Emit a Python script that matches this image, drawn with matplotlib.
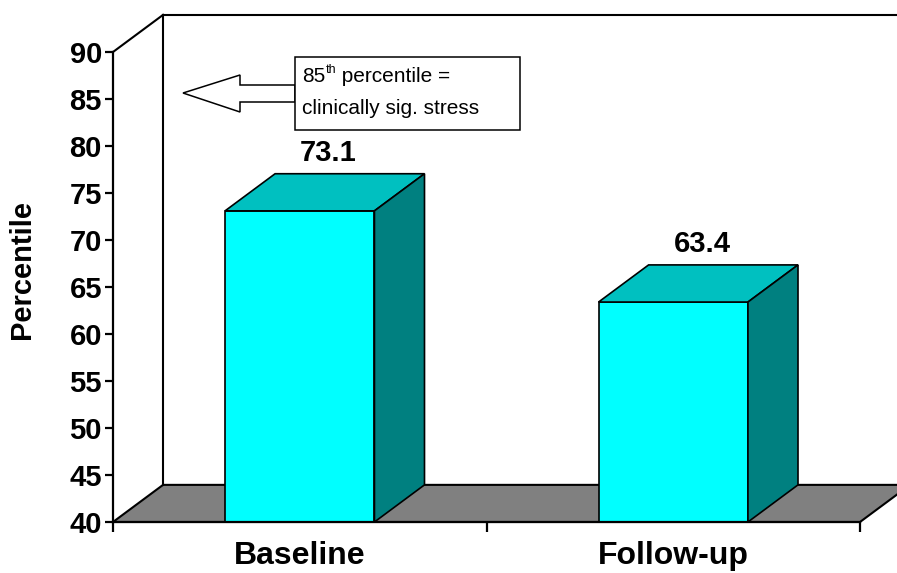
import matplotlib
matplotlib.use("Agg")
import matplotlib.pyplot as plt
from matplotlib.patches import Polygon, Rectangle

categories = ["Baseline", "Follow-up"]
values = [73.1, 63.4]
value_labels = ["73.1", "63.4"]
yticks = [40, 45, 50, 55, 60, 65, 70, 75, 80, 85, 90]
ylabel = "Percentile"
note_num = "85"
note_sup = "th"
note_rest = " percentile ="
note_line2 = "clinically sig. stress"

plt.rcParams['font.family'] = ['Liberation Sans', 'DejaVu Sans']

W, H = 897, 573
fig = plt.figure(figsize=(W / 100, H / 100), dpi=100)
ax = fig.add_axes([113 / W, 51 / H, (860 - 113) / W, 470 / H])
ymin, ymax = 40, 90
ax.set_xlim(0, len(categories))
ax.set_ylim(ymin, ymax)

dx = 0.134   # depth offset in x (category units)
dy = 3.95    # depth offset in y (percentile units)
bw = 0.40
ncat = len(categories)

floor = Polygon([(0, ymin), (ncat, ymin), (ncat + dx, ymin + dy), (dx, ymin + dy)],
                closed=True, facecolor="#808080", edgecolor="black", lw=1.5,
                clip_on=False, zorder=1)
ax.add_patch(floor)
ax.plot([dx, dx], [ymin + dy, ymax + dy], color="black", lw=1.5, clip_on=False, zorder=1.5)
ax.plot([dx, ncat + dx], [ymax + dy, ymax + dy], color="black", lw=1.5, clip_on=False, zorder=1.5)
ax.plot([0, dx], [ymax, ymax + dy], color="black", lw=1.5, clip_on=False, zorder=1.5)

for i, v in enumerate(values):
    x0 = i + 0.5 - bw / 2
    x1 = i + 0.5 + bw / 2
    ax.add_patch(Rectangle((x0, ymin), bw, v - ymin, facecolor="#00FFFF",
                           edgecolor="black", lw=1.2, clip_on=False, zorder=3))
    ax.add_patch(Polygon([(x0, v), (x1, v), (x1 + dx, v + dy), (x0 + dx, v + dy)],
                         closed=True, facecolor="#00C0C0", edgecolor="black",
                         lw=1.2, clip_on=False, zorder=3))
    ax.add_patch(Polygon([(x1, ymin), (x1 + dx, ymin + dy), (x1 + dx, v + dy), (x1, v)],
                         closed=True, facecolor="#008080", edgecolor="black",
                         lw=1.2, clip_on=False, zorder=3))
    ax.text(i + 0.5 + dx / 2 + 0.01, v + dy + 0.7, value_labels[i], ha="center",
            va="bottom", fontsize=21, fontweight="bold", zorder=5)

for s in ["top", "right"]:
    ax.spines[s].set_visible(False)
for s in ["left", "bottom"]:
    ax.spines[s].set_linewidth(1.6)
    ax.spines[s].set_zorder(4)
ax.set_facecolor("none")
ax.set_yticks(yticks)
ax.set_yticklabels([str(t) for t in yticks], fontsize=21, fontweight="bold")
ax.tick_params(axis="y", length=6, width=1.6, pad=2)
ax.set_xticks(range(ncat + 1))
ax.set_xticklabels([""] * (ncat + 1))
ax.tick_params(axis="x", which="major", length=7, width=1.6)
ax.set_xticks([i + 0.5 for i in range(ncat)], minor=True)
ax.set_xticklabels(categories, minor=True, fontsize=23, fontweight="bold")
ax.tick_params(axis="x", which="minor", length=0, pad=14)

fig.text(22 / W, 1 - 270 / H, ylabel, rotation=90, ha="center", va="center",
         fontsize=21, fontweight="bold")

def P(x, y):
    return (x / W, 1 - y / H)

arrow = Polygon([P(183, 93), P(240, 75), P(240, 85), P(295, 85), P(295, 102),
                 P(240, 102), P(240, 112)], closed=True, facecolor="white",
                edgecolor="black", lw=1.1, transform=fig.transFigure, zorder=6)
fig.add_artist(arrow)
box = Rectangle(P(295, 130), (520 - 295) / W, (130 - 57) / H, facecolor="white",
                edgecolor="black", lw=1.1, transform=fig.transFigure, zorder=6)
fig.add_artist(box)

renderer = fig.canvas.get_renderer()
t1 = fig.text(*P(302, 77), note_num, ha="left", va="center", fontsize=15, zorder=7)
bb = t1.get_window_extent(renderer)
t2 = fig.text(bb.x1 / W + 0.5 / W, P(0, 70)[1], note_sup, ha="left", va="center",
              fontsize=9, zorder=7)
bb2 = t2.get_window_extent(renderer)
fig.text(bb2.x1 / W, P(0, 77)[1], note_rest, ha="left", va="center", fontsize=15, zorder=7)
fig.text(*P(302, 108), note_line2, ha="left", va="center", fontsize=15, zorder=7)

fig.savefig("out.png", dpi=100)
